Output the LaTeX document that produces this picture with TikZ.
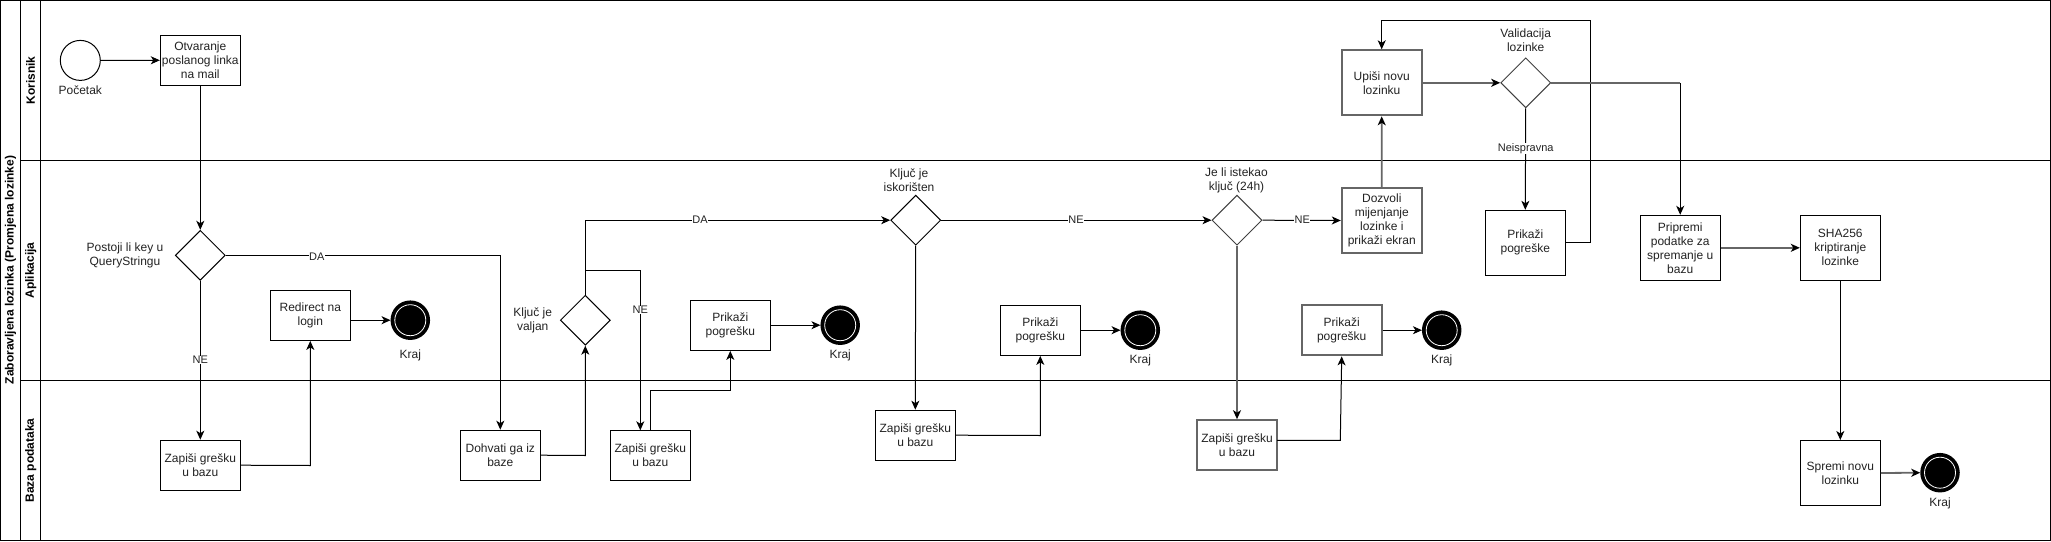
\documentclass[tikz,border=0pt]{standalone}
\usepackage{fontspec}
\setmainfont{Liberation Sans}
\usetikzlibrary{arrows.meta,shapes.geometric}
\definecolor{gline}{HTML}{666666}
\definecolor{txt}{HTML}{222222}
\tikzset{
  box/.style={draw=black,line width=1pt,rectangle,minimum width=80pt,minimum height=50pt,inner sep=1pt,align=center,font=\fontsize{12pt}{14pt}\selectfont,text=txt},
  tallbox/.style={box,minimum height=65pt},
  gbox/.style={draw=gline,line width=2pt},
  dia/.style={draw=black,line width=1pt,diamond,minimum width=50pt,minimum height=50pt,inner sep=0pt,aspect=1},
  gdia/.style={draw=black!75},
  startev/.style={draw=black,line width=1pt,circle,minimum size=40pt,inner sep=0pt},
  endev/.style={draw=black,line width=2.5pt,fill=black,circle,minimum size=37pt,inner sep=0pt},
  lbl/.style={font=\fontsize{12pt}{14pt}\selectfont,text=txt,align=center},
  elbl/.style={font=\fontsize{11pt}{13pt}\selectfont,text=txt,fill=white,inner sep=0.5pt},
  conn/.style={line width=1pt,-{Stealth[length=9pt,width=8pt,inset=2.5pt,color=black]}},
  gconn/.style={conn,draw=gline,line width=1.8pt},
  plain/.style={line width=1pt},
  gplain/.style={draw=gline,line width=1.8pt},
  lane/.style={font=\bfseries\fontsize{12pt}{14pt}\selectfont,rotate=90}
}
\newcommand{\kringdraw}[1]{\draw[white,line width=0.8pt] (#1) circle (15.5pt);}
\begin{document}
\begin{tikzpicture}[x=1pt,y=-1pt]
\useasboundingbox (0,0) rectangle (2051,541);
% frame and lanes
\draw[line width=1pt] (0.5,0.5) rectangle (2050.5,540.5);
\draw[line width=1pt] (20.7,0.5) -- (20.7,540.5);
\draw[line width=1pt] (40.7,0.5) -- (40.7,540.5);
\draw[line width=1pt] (20.7,160.5) -- (2050.5,160.5);
\draw[line width=1pt] (20.7,380.3) -- (2050.5,380.3);
\node[lane] (title) at (10.5,270) {Zaboravljena lozinka (Promjena lozinke)};
\node[lane] (l1) at (30.7,80.5) {Korisnik};
\node[lane] (l2) at (30.7,270.4) {Aplikacija};
\node[lane] (l3) at (30.7,460.4) {Baza podataka};

% nodes
\node[startev] (start) at (80.3,60.4) {};
\node[lbl] (startl) at (80.3,90.4) {Početak};
\node[box] (otv) at (200.3,60.2) {Otvaranje\\poslanog linka\\na mail};
\node[dia] (d1) at (200.3,255.3) {};
\node[lbl] (d1l) at (125,255.7) {Postoji li key u\\QueryStringu};
\node[box] (z1) at (200.3,465.2) {Zapiši grešku\\u bazu};
\node[box] (redir) at (310.3,315.4) {Redirect na\\login};
\node[endev] (k1) at (410.3,320.2) {};
\node[lbl] (k1l) at (410.3,355.4) {Kraj};
\node[box] (dohv) at (500.3,455.2) {Dohvati ga iz\\baze};
\node[dia] (d2) at (585.3,320.2) {};
\node[lbl] (d2l) at (532.7,320.5) {Ključ je\\valjan};
\node[box] (z2) at (650.3,455.2) {Zapiši grešku\\u bazu};
\node[box] (p1) at (730.3,325.4) {Prikaži\\pogrešku};
\node[endev] (k2) at (840.2,325.2) {};
\node[lbl] (k2l) at (840.2,355.4) {Kraj};
\node[dia] (d3) at (915.7,220.2) {};
\node[lbl] (d3l) at (909,180.5) {Ključ je\\iskorišten};
\node[box] (z3) at (915.3,435.2) {Zapiši grešku\\u bazu};
\node[box] (p2) at (1040.3,330.4) {Prikaži\\pogrešku};
\node[endev] (k3) at (1140.3,330.2) {};
\node[lbl] (k3l) at (1140.3,360.6) {Kraj};
\node[dia,gdia] (d4) at (1237,220.2) {};
\node[lbl] (d4l) at (1236.5,180.5) {Je li istekao\\ključ (24h)};
\node[box,gbox] (z4) at (1237,445.2) {Zapiši grešku\\u bazu};
\node[box,gbox] (p3) at (1341.7,330.4) {Prikaži\\pogrešku};
\node[endev] (k4) at (1441.7,330.2) {};
\node[lbl] (k4l) at (1441.7,360.6) {Kraj};
\node[tallbox,gbox] (doz) at (1381.8,220.5) {Dozvoli\\mijenjanje\\lozinke i\\prikaži ekran};
\node[tallbox,gbox] (upi) at (1381.7,82.8) {Upiši novu\\lozinku};
\node[dia,gdia] (d5) at (1525.7,82.8) {};
\node[lbl] (d5l) at (1525.7,40.4) {Validacija\\lozinke};
\node[tallbox] (pps) at (1525.3,242.8) {Prikaži\\pogreške};
\node[tallbox] (pri) at (1680.2,247.8) {Pripremi\\podatke za\\spremanje u\\bazu};
\node[tallbox] (sha) at (1840.3,247.8) {SHA256\\kriptiranje\\lozinke};
\node[tallbox] (spr) at (1840.3,473) {Spremi novu\\lozinku};
\node[endev] (k5) at (1940,472.7) {};
\node[lbl] (k5l) at (1940,503.8) {Kraj};
\foreach \k in {k1,k2,k3,k4,k5} {\kringdraw{\k}}

% helper coordinates
\coordinate (c1) at (500.3,255.3);
\coordinate (c2) at (310.3,465.5);
\coordinate (c3) at (585.3,455.5);
\coordinate (c4) at (585.3,220.2);
\coordinate (c5) at (585.3,270.5);
\coordinate (c6) at (640.3,270.5);
\coordinate (c6b) at (640.3,430.3);
\coordinate (c7) at (650.3,390.3);
\coordinate (c8) at (730.3,390.3);
\coordinate (c9) at (1040.3,435.5);
\coordinate (c10a) at (1277,440.3);
\coordinate (c10) at (1340.3,440.3);
\coordinate (c11) at (1590,242.8);
\coordinate (c12) at (1590,20.7);
\coordinate (c13) at (1381.7,20.7);
\coordinate (c14) at (1680.2,82.8);

% connectors
\draw[conn] (start) -- (otv);
\draw[conn] (otv) -- (d1.north);
\draw[conn] (d1.east) -- (c1) -- (dohv.north);
\node[elbl] (da1) at (316.7,256.5) {DA};
\draw[conn] (d1.south) -- (z1.north);
\node[elbl] (ne1) at (200.3,360) {NE};
\draw[conn] (z1.east) -- (c2) -- (redir.south);
\draw[conn] (redir.east |- k1.west) -- (k1.west);
\draw[conn] (dohv.east) -- (c3) -- (d2.south);
\draw[conn] (d2.north) -- (c4) -- (d3.west);
\node[elbl] (da2) at (700,220.2) {DA};
\draw[conn] (c5) -- (c6) -- (c6b);
\node[elbl] (ne2) at (640.3,310) {NE};
\draw[conn] (z2.north) -- (c7) -- (c8) -- (p1.south);
\draw[conn] (p1.east |- k2.west) -- (k2.west);
\draw[conn] (d3.south) -- (z3.north);
\draw[conn] (z3.east) -- (c9) -- (p2.south);
\draw[conn] (p2.east |- k3.west) -- (k3.west);
\draw[conn] (d3.east) -- (d4.west);
\node[elbl] (ne3) at (1076,220.2) {NE};
\draw[gconn] (d4.south) -- (z4.north);
\draw[conn] (c10a) -- (c10) -- (p3.south);
\draw[conn] (p3.east |- k4.west) -- (k4.west);
\draw[conn] (d4.east) -- (doz.west);
\node[elbl] (ne4) at (1302.3,220.2) {NE};
\draw[gconn] (doz.north) -- (upi.south);
\draw[gconn] (upi.east) -- (d5.west);
\draw[conn] (d5.south) -- (pps.north);
\node[elbl] (neis) at (1525.7,148.4) {Neispravna};
\draw[conn] (pps.east) -- (c11) -- (c12) -- (c13) -- (upi.north);
\draw[gplain] (d5.east) -- (c14);
\draw[conn] (c14) -- (pri.north);
\draw[gconn] (pri.east) -- (sha.west);
\draw[conn] (sha.south) -- (spr.north);
\draw[gconn] (spr.east) -- (k5.west);
\end{tikzpicture}
\end{document}
